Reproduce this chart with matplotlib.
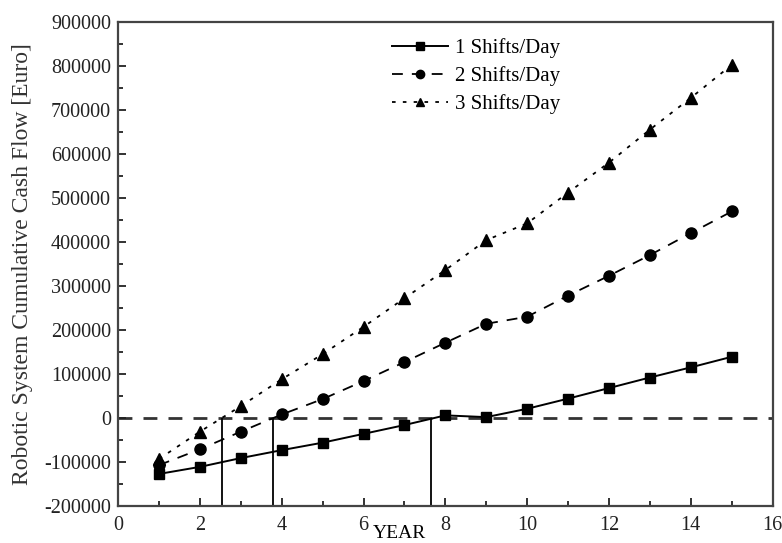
import numpy as np
import matplotlib
matplotlib.use("Agg")
import matplotlib.pyplot as plt
from matplotlib.ticker import MultipleLocator

years = list(range(1, 16))

shift1 = [-127000, -111000, -91000, -73000, -56000, -36000, -16000, 6000,
          2000, 21000, 44000, 68000, 92000, 115000, 139000]
shift2 = [-107000, -71000, -31000, 8000, 43000, 84000, 127000, 171000,
          214000, 230000, 278000, 323000, 370000, 420000, 469000]
shift3 = [-93000, -31000, 27000, 88000, 145000, 207000, 272000, 336000,
          404000, 442000, 512000, 580000, 655000, 727000, 802000]

labels = ["1 Shifts/Day", "2 Shifts/Day", "3 Shifts/Day"]
breakeven = [2.53, 3.78, 7.66]

plt.rcParams["font.family"] = ["Liberation Serif", "DejaVu Serif"]
plt.rcParams["axes.unicode_minus"] = False

fig = plt.figure(figsize=(7.82, 5.43), dpi=100)
ax = fig.add_axes([0.151, 0.068, 0.837, 0.892])

ax.axhline(0, color="#333333", linestyle=(0, (5, 4)), linewidth=2, zorder=1)
ax.vlines(breakeven, -200000, 0, color="black", linewidth=1.3, zorder=2)

ax.plot(years, shift1, color="black", linestyle="-", linewidth=1.4,
        marker="s", markersize=7, label=labels[0], zorder=3)
ax.plot(years, shift2, color="black", linestyle=(0, (6, 5)), linewidth=1.3,
        marker="o", markersize=8, label=labels[1], zorder=3)
ax.plot(years, shift3, color="black", linestyle=(0, (2, 4)), linewidth=1.3,
        marker="^", markersize=8, label=labels[2], zorder=3)

ax.set_xlim(0, 16)
ax.set_ylim(-200000, 900000)
ax.xaxis.set_major_locator(MultipleLocator(2))
ax.xaxis.set_minor_locator(MultipleLocator(1))
ax.yaxis.set_major_locator(MultipleLocator(100000))
ax.yaxis.set_minor_locator(MultipleLocator(50000))
ax.tick_params(which="both", direction="in", top=False, right=False,
               labelsize=14.5, width=1.3, colors="#222222")
ax.tick_params(which="major", length=6)
ax.tick_params(which="minor", length=3.5)
ax.tick_params(axis="x", pad=7)
ax.tick_params(axis="y", pad=5)

for s in ax.spines.values():
    s.set_linewidth(1.6)
    s.set_color("#444444")

ax.set_ylabel("Robotic System Cumulative Cash Flow [Euro]", fontsize=17,
              color="#333333")
ax.yaxis.set_label_coords(-0.13, 0.5)
ax.set_xlabel("YEAR", fontsize=14, va="bottom")
ax.xaxis.set_label_coords(0.43, -0.075)

ax.legend(loc="upper left", bbox_to_anchor=(0.39, 1.005), frameon=False,
          fontsize=15, handlelength=2.7, labelspacing=0.4, handletextpad=0.3,
          markerscale=0.75)

fig.savefig("out.png", dpi=100)
plt.close()
